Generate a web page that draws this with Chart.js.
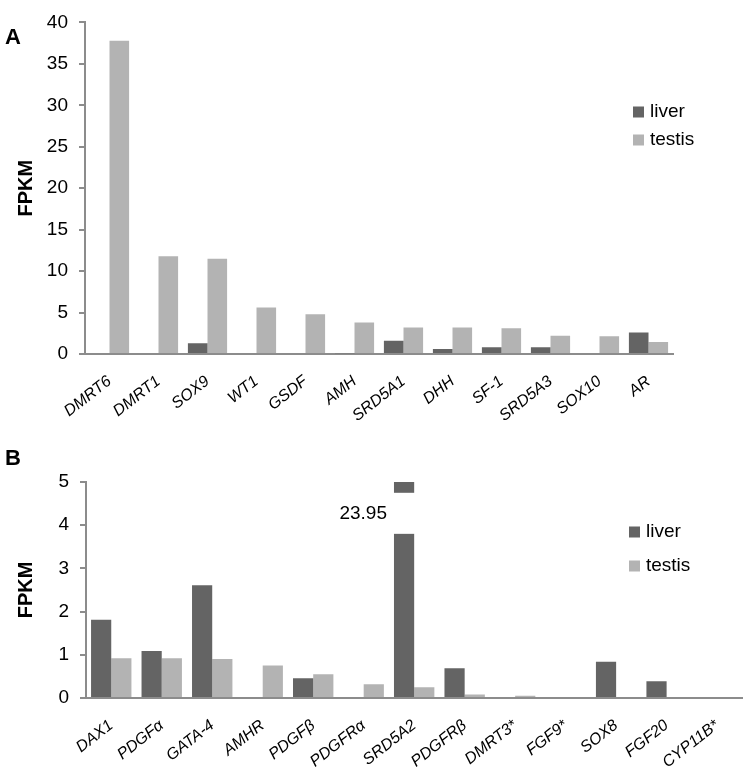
<!DOCTYPE html>
<html>
<head>
<meta charset="utf-8">
<script src="https://cdn.jsdelivr.net/npm/chart.js@4/dist/chart.umd.min.js"></script>
<style>
  html, body { margin: 0; padding: 0; background: #fff; }
  #wrapA { position: absolute; left: 0; top: 0; width: 747px; height: 440px; }
  #wrapB { position: absolute; left: 0; top: 420px; width: 747px; height: 349px; }
</style>
</head>
<body>
<div id="wrapA"><canvas id="chartA"></canvas></div>
<div id="wrapB"><canvas id="chartB"></canvas></div>
<script>
// panel A
const labelsA = ['DMRT6', 'DMRT1', 'SOX9', 'WT1', 'GSDF', 'AMH', 'SRD5A1', 'DHH', 'SF-1', 'SRD5A3', 'SOX10', 'AR']
const liverA = [0, 0, 1.3, 0, 0, 0.1, 1.6, 0.6, 0.8, 0.8, 0, 2.6]
const testisA = [37.8, 11.8, 11.5, 5.6, 4.8, 3.8, 3.2, 3.2, 3.1, 2.2, 2.15, 1.45]

// panel B
const labelsB = ['DAX1', 'PDGFα', 'GATA-4', 'AMHR', 'PDGFβ', 'PDGFRα', 'SRD5A2', 'PDGFRβ', 'DMRT3*', 'FGF9*', 'SOX8', 'FGF20', 'CYP11B*']
const liverB = [1.81, 1.09, 2.61, 0, 0.46, 0, 23.95, 0.69, 0, 0, 0.84, 0.39, 0]
const testisB = [0.92, 0.92, 0.9, 0.75, 0.55, 0.32, 0.25, 0.08, 0.05, 0, 0, 0, 0]

const COLOURS = { liver: '#646464', testis: '#b3b3b3', axis: '#8c8c8c' }
const FONT = "'Liberation Sans', Arial, Helvetica, sans-serif"

// draws panel letter, legend and the axis-break on a bar
const extras = {
  id: 'extras',
  afterDatasetsDraw(chart, args, opts) {
    const ctx = chart.ctx
    const y = chart.scales.y
    ctx.save()

    if (opts.breakBar) {
      const b = opts.breakBar
      const bar = chart.getDatasetMeta(b.dataset).data[b.index]
      const top = y.getPixelForValue(b.to)
      const bottom = y.getPixelForValue(b.from)
      ctx.fillStyle = '#fff'
      ctx.fillRect(bar.x - bar.width / 2 - 1, top, bar.width + 2, bottom - top)
      ctx.fillStyle = '#000'
      ctx.font = '19px ' + FONT
      ctx.textAlign = 'right'
      ctx.textBaseline = 'middle'
      const value = chart.data.datasets[b.dataset].data[b.index]
      ctx.fillText(value.toFixed(2), bar.x - bar.width / 2 - 7, (top + bottom) / 2)
    }

    ctx.fillStyle = '#000'
    ctx.font = 'bold 22px ' + FONT
    ctx.textAlign = 'left'
    ctx.textBaseline = 'alphabetic'
    ctx.fillText(opts.letter.text, opts.letter.x, opts.letter.y)

    const lg = opts.legend
    ctx.font = '19px ' + FONT
    ctx.textBaseline = 'middle'
    chart.data.datasets.forEach((ds, i) => {
      const cy = lg.y + i * lg.gap
      ctx.fillStyle = ds.backgroundColor
      ctx.fillRect(lg.x, cy - 5.5, 11, 11)
      ctx.fillStyle = '#000'
      ctx.fillText(ds.label, lg.x + 17, cy)
    })
    ctx.restore()
  }
}

function makeChart(id, labels, liver, testis, cfg) {
  return new Chart(document.getElementById(id), {
    type: 'bar',
    data: {
      labels: labels,
      datasets: [
        { label: 'liver', data: liver, backgroundColor: COLOURS.liver },
        { label: 'testis', data: testis, backgroundColor: COLOURS.testis },
      ],
    },
    options: {
      responsive: true,
      maintainAspectRatio: false,
      animation: false,
      categoryPercentage: 0.8,
      barPercentage: 1,
      layout: { padding: cfg.padding },
      plugins: {
        legend: { display: false },
        tooltip: { enabled: false },
        extras: cfg.extras,
      },
      scales: {
        x: {
          grid: { display: false, drawTicks: false },
          border: { display: true, color: COLOURS.axis, width: 2 },
          ticks: {
            autoSkip: false,
            minRotation: 38,
            maxRotation: 38,
            padding: 18,
            color: '#000',
            font: { family: FONT, size: 16, style: 'italic' },
          },
          afterFit: s => { s.height = cfg.xHeight },
        },
        y: {
          min: 0,
          max: cfg.yMax,
          ticks: {
            stepSize: cfg.step,
            padding: 11,
            color: '#000',
            font: { family: FONT, size: 19 },
          },
          grid: { drawOnChartArea: false, tickLength: 6, color: COLOURS.axis, lineWidth: 2 },
          border: { display: true, color: COLOURS.axis, width: 2 },
          title: {
            display: true,
            text: 'FPKM',
            color: '#000',
            font: { family: FONT, size: 20, weight: 'bold' },
            padding: { top: 14, bottom: 0 },
          },
          afterFit: s => { s.width = cfg.yWidth },
        },
      },
    },
    plugins: [extras],
  })
}

makeChart('chartA', labelsA, liverA, testisA, {
  padding: { top: 13, right: 74, bottom: 0, left: 0 },
  xHeight: 86,
  yWidth: 85,
  yMax: 40,
  step: 5,
  extras: {
    letter: { text: 'A', x: 5, y: 44 },
    legend: { x: 633, y: 112, gap: 28 },
  },
})

makeChart('chartB', labelsB, liverB, testisB, {
  padding: { top: 62, right: 2, bottom: 0, left: 0 },
  xHeight: 71,
  yWidth: 86,
  yMax: 5,
  step: 1,
  extras: {
    letter: { text: 'B', x: 5, y: 45 },
    legend: { x: 629, y: 112, gap: 34 },
    breakBar: { dataset: 0, index: 6, from: 3.8, to: 4.75 },
  },
})
</script>
</body>
</html>
